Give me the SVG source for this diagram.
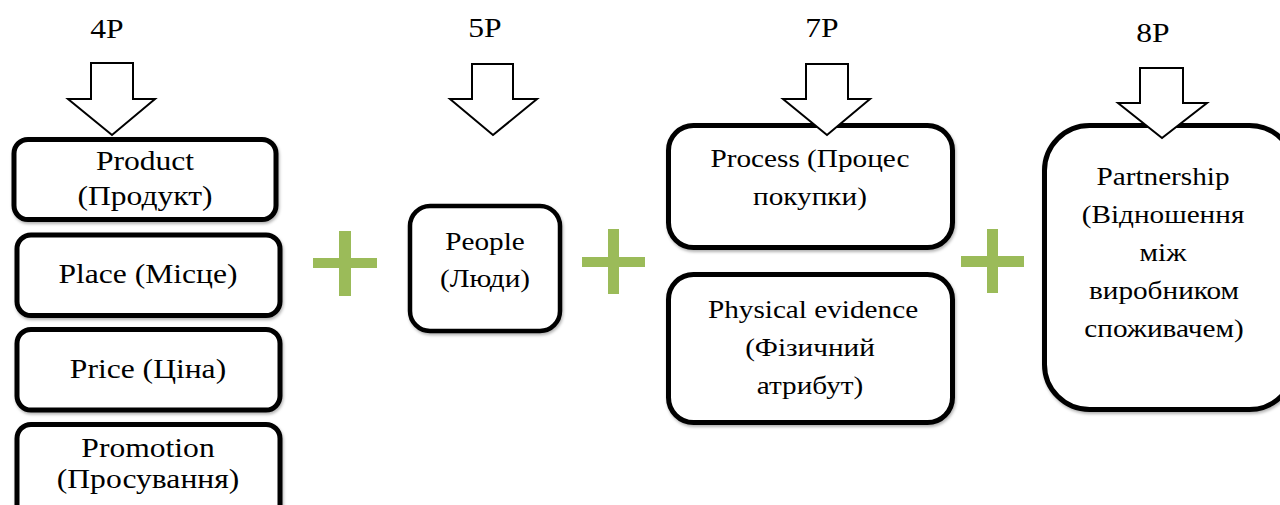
<svg xmlns="http://www.w3.org/2000/svg" width="1280" height="505" viewBox="0 0 1280 505">
<defs>
<filter id="sh" x="-10%" y="-10%" width="120%" height="130%">
<feDropShadow dx="1" dy="2" stdDeviation="1.5" flood-color="#000" flood-opacity="0.3"/>
</filter>
<style>
.box{fill:#fff;stroke:#000;stroke-width:5;filter:url(#sh)}
.arr{fill:#fff;stroke:#000;stroke-width:2;stroke-linejoin:miter}
.plus{fill:#9BBB59}
.t{font-family:"Liberation Serif","Times New Roman",serif;font-size:27px;fill:#000;text-anchor:middle}
.s{font-size:25px}
</style>
</defs>
<rect width="1280" height="505" fill="#fff"/>

<g id="labels">
<text class="t" transform="translate(107,38) scale(1.17,1)">4P</text>
<text class="t" transform="translate(485,37) scale(1.17,1)">5P</text>
<text class="t" transform="translate(822,37) scale(1.17,1)">7P</text>
<text class="t" transform="translate(1153,42) scale(1.17,1)">8P</text>
</g>

<g id="product">
<rect class="box" x="14" y="139.5" width="262" height="80" rx="14"/>
<text class="t" transform="translate(145,170) scale(1.17,1)">Product</text>
<text class="t" transform="translate(145,205) scale(1.17,1)">(Продукт)</text>
</g>
<g id="place">
<rect class="box" x="17" y="235" width="263" height="80.5" rx="14"/>
<text class="t" transform="translate(148,283) scale(1.17,1)">Place (Місце)</text>
</g>
<g id="price">
<rect class="box" x="17" y="329.5" width="263" height="80.5" rx="14"/>
<text class="t" transform="translate(148,378) scale(1.17,1)">Price (Ціна)</text>
</g>
<g id="promotion">
<rect class="box" x="17" y="424.5" width="263" height="110" rx="14"/>
<text class="t" transform="translate(148,457) scale(1.17,1)">Promotion</text>
<text class="t" transform="translate(148,488) scale(1.17,1)">(Просування)</text>
</g>

<g id="people">
<rect class="box" x="410" y="206" width="150" height="125" rx="20" style="stroke-width:4.5"/>
<text class="t s" transform="translate(485,250) scale(1.17,1)">People</text>
<text class="t s" transform="translate(485,287) scale(1.17,1)">(Люди)</text>
</g>

<g id="process">
<rect class="box" x="668.5" y="125.5" width="284" height="122" rx="25"/>
<text class="t s" transform="translate(810,167) scale(1.17,1)">Process (Процес</text>
<text class="t s" transform="translate(810,205) scale(1.17,1)">покупки)</text>
</g>
<g id="physical-evidence">
<rect class="box" x="668.5" y="274.5" width="284" height="148" rx="25"/>
<text class="t s" transform="translate(813,318) scale(1.17,1)">Physical evidence</text>
<text class="t s" transform="translate(810,356) scale(1.17,1)">(Фізичний</text>
<text class="t s" transform="translate(810,394) scale(1.17,1)">атрибут)</text>
</g>

<g id="partnership">
<rect class="box" x="1044.5" y="125.5" width="250" height="284" rx="45"/>
<text class="t s" transform="translate(1163,185) scale(1.17,1)">Partnership</text>
<text class="t s" transform="translate(1163,223) scale(1.17,1)">(Відношення</text>
<text class="t s" transform="translate(1163,261) scale(1.17,1)">між</text>
<text class="t s" transform="translate(1164,299) scale(1.17,1)">виробником</text>
<text class="t s" transform="translate(1164,337) scale(1.17,1)">споживачем)</text>
</g>

<g id="plus-signs">
<rect class="plus" x="313" y="258" width="64" height="10"/>
<rect class="plus" x="339" y="231" width="12" height="65"/>
<rect class="plus" x="582" y="257" width="63" height="10"/>
<rect class="plus" x="608" y="229" width="11" height="65"/>
<rect class="plus" x="961" y="256" width="63" height="11"/>
<rect class="plus" x="987" y="229" width="11" height="64"/>
</g>

<g id="connectors">
<polygon class="arr" points="91,63 133,63 133,99 155,99 112,135 68,99 91,99"/>
<polygon class="arr" points="472,64 513,64 513,99 537,99 493,135 450,99 472,99"/>
<polygon class="arr" points="806,64 848,64 848,99 870,99 827,135 783,99 806,99"/>
<polygon class="arr" points="1140,68 1183,68 1183,103 1207,103 1162,138 1118,103 1140,103"/>
</g>
</svg>
